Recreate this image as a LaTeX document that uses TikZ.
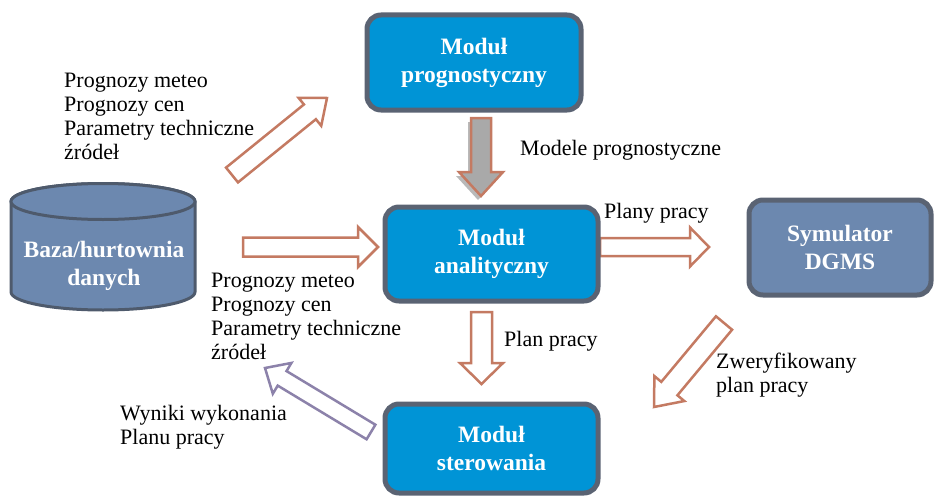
\documentclass[tikz,border=0pt]{standalone}
\usepackage{fontspec}
\setmainfont{Liberation Serif}
\usetikzlibrary{calc}
\definecolor{boxblue}{HTML}{0094D6}
\definecolor{boxedge}{HTML}{5A6373}
\definecolor{simfill}{HTML}{6C88AF}
\definecolor{cyledge}{HTML}{4E5A6C}
\definecolor{copper}{HTML}{C47A62}
\definecolor{lilac}{HTML}{8C82AA}
\definecolor{arrowgray}{HTML}{A9A9A9}
\newcommand\blockarrow[6]{%
  \coordinate (ba-t) at (#2); \coordinate (ba-h) at (#3);
  \coordinate (ba-b) at ($(ba-h)!#6!(ba-t)$);
  \draw[#1] ($(ba-t)!#4!90:(ba-h)$) -- ($(ba-b)!#4!-90:(ba-t)$) -- ($(ba-b)!#5!-90:(ba-t)$) -- (ba-h) -- ($(ba-b)!#5!90:(ba-t)$) -- ($(ba-b)!#4!90:(ba-t)$) -- ($(ba-t)!#4!-90:(ba-h)$) -- cycle;}
\begin{document}
\begin{tikzpicture}[x=1pt,y=-1pt,
  modbox/.style={draw=boxedge, line width=5pt, rounded corners=14pt, fill=boxblue, text=white,
    font=\bfseries\fontsize{23.5}{28}\selectfont, align=center, inner sep=0pt},
  simbox/.style={modbox, fill=simfill},
  lbl/.style={font=\fontsize{22}{24}\selectfont, align=left, inner sep=0pt, anchor=west},
  outarrow/.style={draw=copper, line width=2.5pt, fill=white, line join=miter},
  grayarrow/.style={draw=copper, line width=2.5pt, fill=arrowgray},
  shadowarrow/.style={fill=gray!55, draw=none},
  backarrow/.style={draw=lilac, line width=2.5pt, fill=white}]
\useasboundingbox (0,0) rectangle (936,495);
% arrow end points
\coordinate (a1t) at (232,175); \coordinate (a1h) at (327,98);
\coordinate (a2t) at (481,118); \coordinate (a2h) at (481,196);
\coordinate (a3t) at (243,247); \coordinate (a3h) at (378,247);
\coordinate (a4t) at (600,247); \coordinate (a4h) at (709,247);
\coordinate (a5t) at (481.5,312); \coordinate (a5h) at (481.5,384);
\coordinate (a6t) at (724,323); \coordinate (a6h) at (654,407);
\coordinate (a7t) at (371,432); \coordinate (a7h) at (265,368);
\coordinate (a2st) at (478,122); \coordinate (a2sh) at (478,200);
% arrows
\blockarrow{outarrow}{a1t}{a1h}{9.5pt}{18pt}{22pt}
\blockarrow{shadowarrow}{a2st}{a2sh}{10pt}{22pt}{24pt}
\blockarrow{grayarrow}{a2t}{a2h}{10pt}{22pt}{24pt}
\blockarrow{outarrow}{a3t}{a3h}{9.5pt}{20pt}{20pt}
\blockarrow{outarrow}{a4t}{a4h}{9pt}{19.5pt}{19pt}
\blockarrow{outarrow}{a5t}{a5h}{10.5pt}{21.5pt}{21pt}
\blockarrow{outarrow}{a6t}{a6h}{10.5pt}{19.5pt}{24pt}
\blockarrow{backarrow}{a7t}{a7h}{8.5pt}{18pt}{20pt}
% cylinder
\draw[cyledge, line width=3pt, fill=simfill] (11,201.5) -- (11,292) arc[start angle=180, end angle=0, x radius=92, y radius=18] -- (195,201.5) arc[start angle=0, end angle=-180, x radius=92, y radius=18] -- cycle;
\draw[cyledge, line width=3pt, fill=simfill] (103,201.5) ellipse[x radius=92, y radius=18];
\node[text=white, font=\bfseries\fontsize{23.5}{28}\selectfont, align=center, inner sep=0pt] (baza) at (104,266) {Baza/hurtownia\\danych};
% boxes
\node[modbox, minimum width=214pt, minimum height=95pt] (prog) at (474,62.5) {Moduł\\prognostyczny};
\node[modbox, minimum width=213pt, minimum height=94pt] (anal) at (491.5,254) {Moduł\\analityczny};
\node[modbox, minimum width=213pt, minimum height=89pt] (ster) at (491.5,448.5) {Moduł\\sterowania};
\node[simbox, minimum width=182pt, minimum height=95pt] (sim) at (840,247.5) {Symulator\\DGMS};
% labels
\node[lbl] (l1) at (64,116.5) {Prognozy meteo\\Prognozy cen\\Parametry techniczne\\źródeł};
\node[lbl] (l2) at (520,150) {Modele prognostyczne};
\node[lbl] (l3) at (604,213) {Plany pracy};
\node[lbl] (l4) at (211,316.5) {Prognozy meteo\\Prognozy cen\\Parametry techniczne\\źródeł};
\node[lbl] (l5) at (504,341) {Plan pracy};
\node[lbl] (l6) at (716,375) {Zweryfikowany\\plan pracy};
\node[lbl] (l7) at (120,427) {Wyniki wykonania\\Planu pracy};
\end{tikzpicture}
\end{document}
